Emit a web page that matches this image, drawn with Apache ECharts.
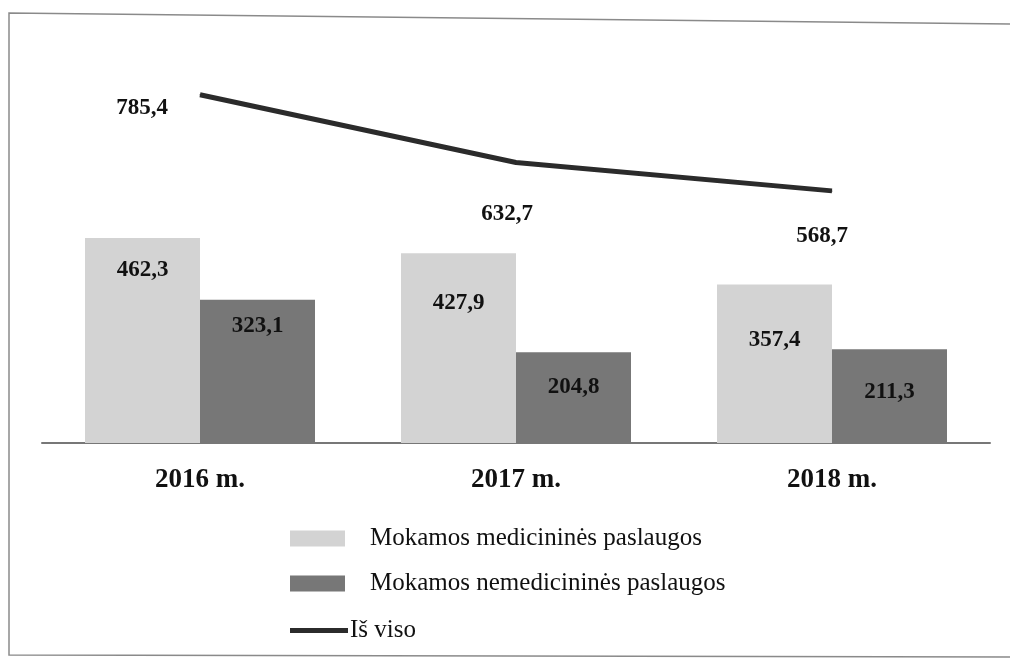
<!DOCTYPE html>
<html>
<head>
<meta charset="utf-8">
<script src="https://cdn.jsdelivr.net/npm/echarts@6/dist/echarts.min.js"></script>
<style>
  html, body { margin: 0; padding: 0; background: #fff; }
  #chart { width: 1010px; height: 663px; }
</style>
</head>
<body>
<div id="chart"></div>
<script>
// duomenys
const years = ['2016 m.', '2017 m.', '2018 m.'];
const medicinines = [462.3, 427.9, 357.4];
const nemedicinines = [323.1, 204.8, 211.3];
const isViso = [785.4, 632.7, 568.7];

// etikečių poslinkiai (tik išdėstymui)
const medLabelDist = [21, 38, 44];
const nemedLabelDist = [15, 23, 31];
const lineLabelOffset = [[-58, 13], [-9, 52], [-10, 45]];

const serif = '"Liberation Serif", "Times New Roman", serif';
const fmt = v => String(v).replace('.', ',');

const barLabel = {
  show: true,
  position: 'insideTop',
  color: '#111',
  fontFamily: serif,
  fontWeight: 'bold',
  fontSize: 23,
  formatter: p => fmt(p.value)
};

const chart = echarts.init(document.getElementById('chart'));

const option = {
  animation: false,
  backgroundColor: '#fff',
  grid: { left: 42, right: 20, top: 44, bottom: 220 },
  legend: [
    {
      orient: 'vertical',
      left: 285,
      top: 521,
      itemWidth: 55,
      itemHeight: 16,
      itemGap: 20,
      icon: 'rect',
      data: ['Mokamos medicininės paslaugos', 'Mokamos nemedicininės paslaugos'],
      textStyle: { fontFamily: serif, fontSize: 25, color: '#111', padding: [0, 0, 0, 20] }
    },
    {
      orient: 'vertical',
      left: 285,
      top: 613,
      itemWidth: 58,
      itemHeight: 5,
      icon: 'rect',
      data: ['Iš viso'],
      textStyle: { fontFamily: serif, fontSize: 25, color: '#111', padding: [0, 0, 0, -3] }
    }
  ],
  xAxis: {
    type: 'category',
    data: years,
    axisTick: { show: false },
    axisLine: { lineStyle: { color: '#777', width: 2 } },
    axisLabel: {
      margin: 24,
      color: '#111',
      fontFamily: serif,
      fontWeight: 'bold',
      fontSize: 27
    }
  },
  yAxis: {
    type: 'value',
    min: 0,
    max: 900,
    show: false,
    splitLine: { show: false }
  },
  series: [
    {
      name: 'Mokamos medicininės paslaugos',
      type: 'bar',
      barWidth: 115,
      barGap: '0%',
      itemStyle: { color: '#d3d3d3' },
      data: medicinines.map((v, i) => ({ value: v, label: { distance: medLabelDist[i] } })),
      label: barLabel
    },
    {
      name: 'Mokamos nemedicininės paslaugos',
      type: 'bar',
      barWidth: 115,
      barGap: '0%',
      itemStyle: { color: '#777777' },
      data: nemedicinines.map((v, i) => ({ value: v, label: { distance: nemedLabelDist[i] } })),
      label: barLabel
    },
    {
      name: 'Iš viso',
      type: 'line',
      symbol: 'circle',
      symbolSize: 1,
      lineStyle: { color: '#2b2b2b', width: 5 },
      itemStyle: { color: '#2b2b2b' },
      data: isViso.map((v, i) => ({ value: v, label: { offset: lineLabelOffset[i] } })),
      label: {
        show: true,
        position: 'inside',
        color: '#111',
        fontFamily: serif,
        fontWeight: 'bold',
        fontSize: 23,
        formatter: p => fmt(p.value)
      }
    }
  ],
  graphic: [
    {
      type: 'polyline',
      silent: true,
      shape: { points: [[1010, 24], [9, 13], [9, 655], [1010, 657]] },
      style: { stroke: '#8a8a8a', lineWidth: 1.5, fill: null }
    }
  ]
};

chart.setOption(option);
</script>
</body>
</html>
